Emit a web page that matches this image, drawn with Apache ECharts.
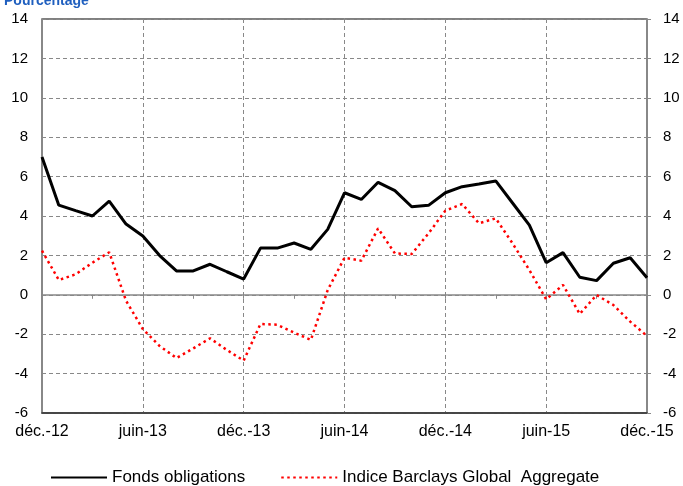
<!DOCTYPE html>
<html>
<head>
<meta charset="utf-8">
<script src="https://cdn.jsdelivr.net/npm/echarts@6/dist/echarts.min.js"></script>
<style>
  html, body { margin: 0; padding: 0; background: #fff; }
  #chart { width: 683px; height: 486px; }
</style>
</head>
<body>
<div id="chart"></div>
<script>
// mois de déc.-12 à déc.-15
const months = [
  "déc.-12", "janv.-13", "févr.-13", "mars-13", "avr.-13", "mai-13", "juin-13",
  "juil.-13", "août-13", "sept.-13", "oct.-13", "nov.-13", "déc.-13",
  "janv.-14", "févr.-14", "mars-14", "avr.-14", "mai-14", "juin-14",
  "juil.-14", "août-14", "sept.-14", "oct.-14", "nov.-14", "déc.-14",
  "janv.-15", "févr.-15", "mars-15", "avr.-15", "mai-15", "juin-15",
  "juil.-15", "août-15", "sept.-15", "oct.-15", "nov.-15", "déc.-15"
];
const fondsObligations = [
  7.0, 4.55, 4.27, 4.0, 4.76, 3.59, 2.98, 1.99, 1.21, 1.21, 1.55, 1.17, 0.8,
  2.37, 2.37, 2.63, 2.31, 3.32, 5.18, 4.84, 5.71, 5.29, 4.47, 4.54, 5.18,
  5.49, 5.62, 5.78, 4.66, 3.54, 1.63, 2.14, 0.89, 0.72, 1.6, 1.88, 0.87
];
const indiceBarclays = [
  2.24, 0.75, 1.04, 1.63, 2.16, -0.3, -1.74, -2.6, -3.21, -2.72, -2.21, -2.8, -3.34,
  -1.48, -1.52, -1.92, -2.29, 0.24, 1.88, 1.73, 3.37, 2.1, 2.07, 3.12, 4.27,
  4.61, 3.63, 3.88, 2.61, 1.26, -0.23, 0.5, -0.97, -0.01, -0.52, -1.36, -2.09
];
const yMin = -6, yMax = 14, yStep = 2;

const font = "Liberation Sans, Arial, sans-serif";
const myChart = echarts.init(document.getElementById("chart"));

const option = {
  animation: false,
  backgroundColor: "#fff",
  textStyle: { fontFamily: font },
  title: {
    text: "Pourcentage",
    left: -1,
    top: -11,
    textStyle: { color: "#1f5fbf", fontSize: 14, fontWeight: "bold", fontFamily: font }
  },
  grid: {
    left: 42, right: 36, top: 19, bottom: 73,
    show: true, borderColor: "#000", borderWidth: 1, backgroundColor: "transparent"
  },
  legend: {
    top: 464,
    left: 45,
    itemWidth: 56,
    itemHeight: 10,
    itemGap: 35,
    itemStyle: { opacity: 0 },
    textStyle: { fontSize: 17, color: "#000", fontFamily: font },
    data: ["Fonds obligations", "Indice Barclays Global  Aggregate"]
  },
  xAxis: [
    {
      type: "category",
      data: months,
      boundaryGap: false,
      position: "bottom",
      axisLine: { onZero: false, lineStyle: { color: "#333", width: 1.5 } },
      axisTick: { show: false },
      axisLabel: { interval: 5, color: "#000", fontSize: 16, margin: 11, fontFamily: font },
      splitLine: { show: true, interval: 5, lineStyle: { color: "#888", type: [4, 3], width: 1 } }
    },
    {
      type: "category",
      data: months,
      boundaryGap: false,
      position: "bottom",
      axisLine: { onZero: true, lineStyle: { color: "#888", width: 1.5 } },
      axisTick: { show: true, interval: 2, length: 4, lineStyle: { color: "#888" } },
      axisLabel: { show: false },
      splitLine: { show: false }
    }
  ],
  yAxis: [
    {
      type: "value",
      min: yMin, max: yMax, interval: yStep,
      position: "left",
      axisLine: { show: true, lineStyle: { color: "#888", width: 2 } },
      axisTick: { show: false },
      axisLabel: { color: "#000", fontSize: 15, margin: 14, fontFamily: font },
      splitLine: { show: true, lineStyle: { color: "#888", type: [4, 3], width: 1 } }
    },
    {
      type: "value",
      min: yMin, max: yMax, interval: yStep,
      position: "right",
      axisLine: { show: true, lineStyle: { color: "#888", width: 2 } },
      axisTick: { show: true, length: 4, lineStyle: { color: "#888" } },
      axisLabel: { color: "#000", fontSize: 15, margin: 16, fontFamily: font },
      splitLine: { show: false }
    }
  ],
  series: [
    {
      name: "Fonds obligations",
      type: "line",
      data: fondsObligations,
      showSymbol: false,
      symbol: "none",
      lineStyle: { color: "#000", width: 3 },
      itemStyle: { color: "#000" },
      z: 3
    },
    {
      name: "Indice Barclays Global  Aggregate",
      type: "line",
      data: indiceBarclays,
      showSymbol: false,
      symbol: "none",
      lineStyle: { color: "#ff0000", width: 2.5, type: [2.5, 3.5] },
      itemStyle: { color: "#ff0000" },
      z: 2
    }
  ]
};
myChart.setOption(option);
</script>
</body>
</html>
